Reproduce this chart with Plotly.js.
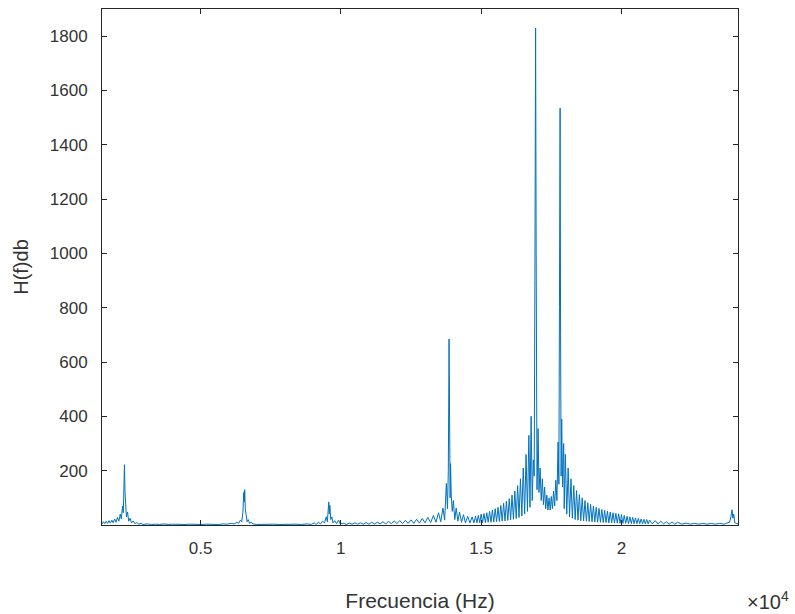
<!DOCTYPE html>
<html>
<head>
<meta charset="utf-8">
<script src="https://cdn.plot.ly/plotly-3.0.1.min.js"></script>
<style>html,body{margin:0;padding:0;background:#fff;}#chart{width:795px;height:614px;}</style>
</head>
<body>
<div id="chart"></div>
<script>
// Spectrum: [frequency Hz, magnitude]
const segLow = [[1490,4],[1540,12],[1590,5],[1640,14],[1690,6],[1740,16],[1790,7],[1840,18],[1890,8],[1940,22],[1990,10],[2040,28],[2090,14],[2140,40],[2180,22],[2220,70],[2250,45],[2270,150],[2290,222],[2310,120],[2330,60],[2360,30],[2400,48],[2440,14],[2490,25],[2540,8],[2600,15],[2660,5],[2730,9],[2800,3],[2880,6]];
const segMid1 = [[2950,2],[3100,4],[3250,2],[3400,3],[3550,2],[3700,4],[3850,2],[4000,3],[4150,2],[4300,3],[4450,2],[4600,3],[4750,2],[4900,3],[5050,2],[5200,3],[5350,2],[5500,3],[5650,2],[5800,4],[5950,3],[6100,6],[6200,4],[6300,10]];
const segPeak2 = [[6360,6],[6420,18],[6470,12],[6510,45],[6540,120],[6560,85],[6575,130],[6595,60],[6620,30],[6660,12],[6700,20],[6750,6],[6800,10],[6870,4]];
const segPeak3 = [[7000,2],[7200,3],[7400,2],[7600,3],[7800,2],[8000,3],[8200,2],[8400,3],[8600,2],[8800,4],[8950,2],[9050,8],[9120,2],[9200,10],[9280,4],[9350,14],[9420,8],[9480,30],[9520,12],[9550,70],[9570,85],[9590,40],[9610,72],[9640,20],[9680,30],[9720,8],[9780,16],[9850,5],[9920,18],[9980,4]];
const segMid2 = [[10100,6],[10200,2],[10300,7],[10400,3],[10500,8],[10600,3],[10700,8],[10800,3],[10900,9],[11000,3],[11100,10],[11200,4],[11300,10],[11400,4],[11500,12],[11600,4],[11700,13],[11800,5],[11900,15],[12000,5]];
const segPeak4 = [[12100,16],[12200,5],[12300,17],[12400,6],[12500,19],[12600,6],[12700,21],[12800,7],[12900,24],[13000,8],[13100,28],[13200,9],[13300,35],[13390,10],[13480,45],[13560,12],[13640,62],[13700,18],[13760,153],[13800,60],[13830,200],[13857,685],[13880,300],[13895,100],[13910,226],[13935,110],[13970,50],[14010,90],[14060,20],[14110,62],[14170,14],[14230,48],[14300,10],[14370,38],[14440,8],[14520,32],[14600,8],[14680,30],[14740,8]];
const segRise = [[14800,32],[14850,8],[14900,36],[14950,8],[15000,40],[15050,9],[15100,42],[15150,9],[15200,45],[15250,10],[15300,50],[15350,10],[15400,55],[15450,11],[15500,60],[15550,12],[15600,65],[15650,13],[15700,72],[15750,14],[15800,80],[15850,15],[15900,88],[15950,17],[16000,97],[16050,19],[16100,110],[16150,21],[16200,125],[16250,24],[16300,145],[16350,28],[16400,170],[16450,33],[16500,210],[16550,40],[16600,260],[16650,50],[16700,330],[16740,65],[16780,400],[16820,90],[16860,240],[16890,180],[16915,900],[16940,1830],[16960,1000],[16975,200]];
const segValley = [[16990,130],[17030,355],[17060,120],[17100,210],[17140,90],[17180,170],[17220,75],[17260,140],[17300,60],[17340,110],[17380,55],[17420,100],[17460,55],[17500,105],[17540,60],[17580,125],[17620,70],[17660,165],[17700,90],[17740,305],[17770,150],[17790,800],[17813,1535],[17830,700],[17850,180],[17870,390],[17900,140],[17940,300]];
const segFall = [[17960,60],[18000,260],[18050,40],[18100,210],[18150,30],[18200,170],[18250,25],[18300,145],[18350,20],[18400,127],[18450,18],[18500,112],[18550,16],[18600,100],[18650,15],[18700,90],[18750,14],[18800,82],[18850,13],[18900,76],[18950,12],[19000,70],[19050,11],[19100,65],[19150,10],[19200,61],[19250,10],[19300,57],[19350,9],[19400,54],[19450,9],[19500,51],[19550,8],[19600,48],[19650,8],[19700,45],[19750,7],[19800,43],[19850,7],[19900,41],[19950,6],[20000,38],[20050,6],[20100,35],[20150,6],[20200,32],[20250,5],[20300,30],[20350,5],[20400,28],[20450,5],[20500,26],[20550,5],[20600,24],[20650,5],[20700,22],[20750,4],[20800,21],[20850,4],[20900,20],[20950,4],[21000,18],[21100,4],[21200,16],[21300,4],[21400,14],[21500,4],[21600,12],[21700,3],[21800,11],[21900,3],[22000,10]];
const segEnd = [[22150,3],[22300,7],[22450,3],[22600,6],[22750,3],[22900,6],[23050,3],[23200,6],[23350,3],[23500,6],[23650,3],[23750,7],[23850,10],[23900,30],[23940,56],[23970,25],[24000,40],[24040,8],[24100,5],[24152,4]];

const xTickVals = [5000, 10000, 15000, 20000];
const xTickText = ['0.5', '1', '1.5', '2'];
const yTickVals = [200, 400, 600, 800, 1000, 1200, 1400, 1600, 1800];

const all = [].concat(segLow, segMid1, segPeak2, segPeak3, segMid2, segPeak4, segRise, segValley, segFall, segEnd);
const freq = all.map(p => p[0]);
const mag = all.map(p => p[1]);

const font = 'Liberation Sans, Arial, Helvetica, sans-serif';
const txt = '#333333';
const axisCommon = {
  showline: true, linecolor: '#262626', linewidth: 1, mirror: 'ticks',
  ticks: 'inside', ticklen: 5, tickcolor: '#262626', tickwidth: 1,
  showgrid: false, zeroline: false,
  tickfont: {family: font, size: 17, color: txt}
};

const trace = {
  x: freq, y: mag, type: 'scatter', mode: 'lines',
  line: {color: '#0072BD', width: 1},
  hoverinfo: 'skip'
};

const layout = {
  width: 795, height: 614,
  paper_bgcolor: '#ffffff', plot_bgcolor: '#ffffff',
  margin: {l: 102, r: 57, t: 9, b: 89},
  showlegend: false,
  xaxis: Object.assign({}, axisCommon, {
    range: [1490, 24152], tickmode: 'array', tickvals: xTickVals, ticktext: xTickText,
    ticklabelstandoff: 8,
    title: {text: 'Frecuencia (Hz)', font: {family: font, size: 21, color: txt}, standoff: 35}
  }),
  yaxis: Object.assign({}, axisCommon, {
    range: [0, 1900], tickmode: 'array', tickvals: yTickVals,
    ticklabelstandoff: 10,
    title: {text: 'H(f)db', font: {family: font, size: 20, color: txt}, standoff: 15}
  }),
  annotations: [{
    xref: 'paper', yref: 'paper', x: 1, y: -0.147, xanchor: 'left', yanchor: 'middle',
    xshift: 7, showarrow: false,
    text: '×10<sup>4</sup>', font: {family: font, size: 20, color: txt}
  }]
};

Plotly.newPlot('chart', [trace], layout, {displayModeBar: false, staticPlot: true});
</script>
</body>
</html>
